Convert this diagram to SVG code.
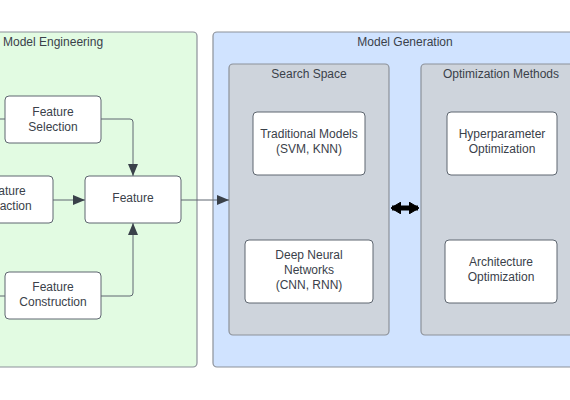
<svg xmlns="http://www.w3.org/2000/svg" width="570" height="400" viewBox="0 0 570 400">
<defs>
<style>
text{font-family:"Liberation Sans",Arial,sans-serif;font-size:12px;fill:#3a414a;text-anchor:middle}
.cont{stroke:#8c9199;stroke-width:1.2}
.node{fill:#ffffff;stroke:#5e6670;stroke-width:1}
.edge{fill:none;stroke:#5e6670;stroke-width:1}
</style>
<marker id="arr" viewBox="0 0 12 10" refX="12" refY="5" markerWidth="12" markerHeight="10" markerUnits="userSpaceOnUse" orient="auto">
<path d="M0,0 L12,5 L0,10 Z" fill="#3a414a"/>
</marker>
<marker id="blk" viewBox="0 0 10 12" refX="9" refY="6" markerWidth="10" markerHeight="12" markerUnits="userSpaceOnUse" orient="auto-start-reverse">
<path d="M0,0 L10,6 L0,12 Z" fill="#000000" stroke="#000" stroke-linejoin="round" stroke-width="1"/>
</marker>
</defs>
<rect width="570" height="400" fill="#ffffff"/>
<g id="model-engineering">
<rect class="cont" x="-20" y="32" width="217" height="335" rx="4" fill="#e2fbe2"/>
<text x="3" y="46" style="text-anchor:start">Model Engineering</text>
</g>
<g id="model-generation">
<rect class="cont" x="213" y="32" width="384" height="335" rx="4" fill="#d0e3ff"/>
<text x="405" y="46">Model Generation</text>
</g>
<g id="search-space">
<rect class="cont" x="229" y="64" width="160" height="271" rx="4" fill="#ced4dc"/>
<text x="309" y="78">Search Space</text>
</g>
<g id="optimization-methods">
<rect class="cont" x="421" y="64" width="160" height="271" rx="4" fill="#ced4dc"/>
<text x="501" y="78">Optimization Methods</text>
</g>
<g id="connectors">
<path class="edge" d="M-10,119 H5"/>
<path class="edge" d="M-10,296 H5"/>
<path class="edge" d="M101,119 H130 Q133,119 133,122 V176" marker-end="url(#arr)"/>
<path class="edge" d="M53,200 H85" marker-end="url(#arr)"/>
<path class="edge" d="M101,296 H130 Q133,296 133,293 V223" marker-end="url(#arr)"/>
<path class="edge" d="M181,200 H229" marker-end="url(#arr)"/>
<path d="M392,208 H418" fill="none" stroke="#000" stroke-width="5" marker-start="url(#blk)" marker-end="url(#blk)"/>
</g>
<g id="feature-selection">
<rect class="node" x="5" y="96" width="96" height="47" rx="4"/>
<text x="53" y="116">Feature</text>
<text x="53" y="131">Selection</text>
</g>
<g id="feature-extraction">
<rect class="node" x="-43" y="176" width="96" height="47" rx="4"/>
<text x="5" y="195">Feature</text>
<text x="5" y="210">Extraction</text>
</g>
<g id="feature">
<rect class="node" x="85" y="176" width="96" height="47" rx="4"/>
<text x="133" y="202">Feature</text>
</g>
<g id="feature-construction">
<rect class="node" x="5" y="272" width="96" height="47" rx="4"/>
<text x="53" y="291">Feature</text>
<text x="53" y="306">Construction</text>
</g>
<g id="traditional-models">
<rect class="node" x="253" y="112" width="112" height="63" rx="4"/>
<text x="309" y="138">Traditional Models</text>
<text x="309" y="153">(SVM, KNN)</text>
</g>
<g id="deep-neural-networks">
<rect class="node" x="245" y="240" width="128" height="63" rx="4"/>
<text x="309" y="259">Deep Neural</text>
<text x="309" y="274">Networks</text>
<text x="309" y="289">(CNN, RNN)</text>
</g>
<g id="hyperparameter-optimization">
<rect class="node" x="447" y="112" width="110" height="63" rx="4"/>
<text x="502" y="138">Hyperparameter</text>
<text x="502" y="153">Optimization</text>
</g>
<g id="architecture-optimization">
<rect class="node" x="445" y="240" width="112" height="63" rx="4"/>
<text x="501" y="266">Architecture</text>
<text x="501" y="281">Optimization</text>
</g>
</svg>
